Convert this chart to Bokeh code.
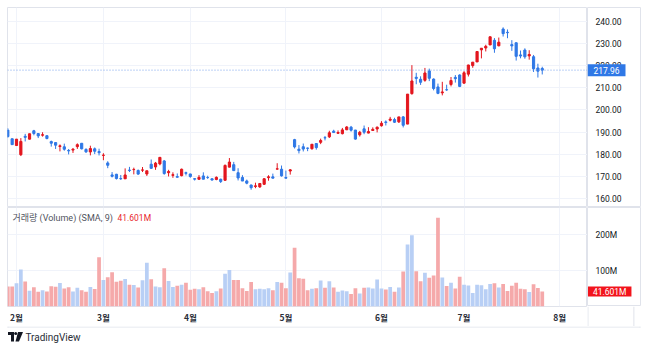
import numpy as np
from bokeh.plotting import figure
from bokeh.layouts import column, row
from bokeh.models import (ColumnDataSource, Range1d, FixedTicker, Span, Label)
from bokeh.core.properties import value
from bokeh.embed import file_html
from bokeh.resources import INLINE

# ---------------- data (AAPL daily) ----------------
dates = ["2024-01-30", "2024-01-31",
         "2024-02-01", "2024-02-02", "2024-02-05", "2024-02-06", "2024-02-07", "2024-02-08", "2024-02-09",
         "2024-02-12", "2024-02-13", "2024-02-14", "2024-02-15", "2024-02-16", "2024-02-20", "2024-02-21",
         "2024-02-22", "2024-02-23", "2024-02-26", "2024-02-27", "2024-02-28", "2024-02-29",
         "2024-03-01", "2024-03-04", "2024-03-05", "2024-03-06", "2024-03-07", "2024-03-08", "2024-03-11",
         "2024-03-12", "2024-03-13", "2024-03-14", "2024-03-15", "2024-03-18", "2024-03-19", "2024-03-20",
         "2024-03-21", "2024-03-22", "2024-03-25", "2024-03-26", "2024-03-27", "2024-03-28",
         "2024-04-01", "2024-04-02", "2024-04-03", "2024-04-04", "2024-04-05", "2024-04-08", "2024-04-09",
         "2024-04-10", "2024-04-11", "2024-04-12", "2024-04-15", "2024-04-16", "2024-04-17", "2024-04-18",
         "2024-04-19", "2024-04-22", "2024-04-23", "2024-04-24", "2024-04-25", "2024-04-26", "2024-04-29",
         "2024-04-30",
         "2024-05-01", "2024-05-02", "2024-05-03", "2024-05-06", "2024-05-07", "2024-05-08", "2024-05-09",
         "2024-05-10", "2024-05-13", "2024-05-14", "2024-05-15", "2024-05-16", "2024-05-17", "2024-05-20",
         "2024-05-21", "2024-05-22", "2024-05-23", "2024-05-24", "2024-05-28", "2024-05-29", "2024-05-30",
         "2024-05-31",
         "2024-06-03", "2024-06-04", "2024-06-05", "2024-06-06", "2024-06-07", "2024-06-10", "2024-06-11",
         "2024-06-12", "2024-06-13", "2024-06-14", "2024-06-17", "2024-06-18", "2024-06-20", "2024-06-21",
         "2024-06-24", "2024-06-25", "2024-06-26", "2024-06-27", "2024-06-28",
         "2024-07-01", "2024-07-02", "2024-07-03", "2024-07-05", "2024-07-08", "2024-07-09", "2024-07-10",
         "2024-07-11", "2024-07-12", "2024-07-15", "2024-07-16", "2024-07-17", "2024-07-18", "2024-07-19",
         "2024-07-22", "2024-07-23", "2024-07-24", "2024-07-25", "2024-07-26"]

opens = [190.94, 187.04,
         183.99, 179.86, 188.15, 186.86, 190.64, 189.39, 188.65, 188.42, 185.77, 185.32, 183.55, 183.42,
         181.79, 181.94, 183.48, 185.01, 182.24, 181.10, 182.51, 181.27,
         179.55, 176.15, 170.76, 171.06, 169.15, 169.00, 172.94, 173.15, 172.77, 172.91, 171.17, 175.57,
         174.34, 175.72, 177.05, 171.76, 170.57, 170.00, 170.41, 171.75,
         171.19, 169.08, 168.79, 170.29, 169.59, 169.03, 168.70, 168.80, 168.34, 174.26, 175.36, 171.75,
         169.61, 168.03, 166.21, 165.52, 165.35, 166.54, 169.53, 169.88, 173.37, 173.33,
         169.58, 172.51, 186.65, 182.35, 183.45, 182.85, 182.56, 184.90, 185.44, 187.51, 187.91, 190.47,
         189.51, 189.33, 191.09, 192.27, 190.98, 188.82, 191.51, 189.61, 190.76, 191.44,
         192.90, 194.64, 195.40, 195.69, 194.65, 196.90, 193.65, 207.37, 214.74, 213.85, 213.37, 217.59,
         213.93, 210.39, 207.72, 209.15, 211.50, 214.69, 215.77,
         212.09, 216.15, 220.00, 221.65, 227.09, 227.93, 229.30, 231.39, 228.92, 236.48, 235.00, 229.45,
         230.28, 224.82, 227.01, 224.37, 224.00, 218.93, 218.70]

highs = [191.80, 187.10,
         186.95, 187.33, 189.25, 189.31, 191.05, 189.54, 189.99, 188.67, 186.21, 185.53, 184.49, 184.85,
         182.43, 182.89, 184.96, 185.04, 182.76, 183.92, 183.12, 182.57,
         180.53, 176.90, 172.04, 171.24, 170.73, 173.70, 174.38, 174.03, 173.19, 174.31, 172.62, 177.71,
         176.61, 178.67, 177.49, 173.05, 171.94, 171.42, 173.60, 172.23,
         171.25, 169.34, 170.68, 171.92, 170.39, 169.20, 170.08, 169.09, 175.46, 178.36, 176.63, 173.76,
         170.65, 168.64, 166.40, 167.26, 167.05, 169.30, 170.61, 171.34, 176.03, 174.99,
         172.71, 173.42, 187.00, 184.20, 184.90, 183.07, 184.66, 185.09, 187.10, 188.30, 190.65, 191.10,
         190.81, 191.92, 192.73, 192.82, 191.00, 190.58, 193.00, 192.25, 192.18, 192.57,
         194.99, 195.32, 196.90, 196.50, 196.94, 197.30, 207.16, 220.20, 216.75, 215.17, 218.95, 218.63,
         214.24, 211.89, 212.70, 211.38, 214.86, 215.74, 216.07,
         217.51, 220.38, 221.55, 226.45, 227.85, 229.40, 233.08, 232.39, 232.64, 237.23, 236.27, 231.46,
         230.44, 226.80, 227.78, 226.94, 224.80, 220.85, 219.49]

lows = [187.47, 184.35,
        183.82, 179.25, 185.84, 186.77, 188.61, 187.35, 188.00, 186.79, 183.51, 182.44, 181.35, 181.67,
        180.00, 180.66, 182.46, 182.23, 180.65, 179.56, 180.13, 179.53,
        177.38, 173.79, 169.62, 168.68, 168.49, 168.94, 172.05, 171.01, 170.76, 172.05, 170.29, 173.52,
        173.03, 175.09, 170.84, 170.06, 169.45, 169.58, 170.11, 170.51,
        169.48, 168.23, 168.58, 168.82, 168.95, 168.24, 168.35, 167.11, 168.16, 174.21, 172.50, 168.27,
        168.00, 166.55, 164.08, 164.77, 164.92, 166.21, 168.15, 169.18, 173.10, 170.00,
        169.11, 170.89, 182.66, 180.42, 181.32, 181.45, 182.11, 182.13, 184.62, 186.29, 187.37, 189.66,
        189.18, 189.01, 190.92, 190.27, 186.63, 188.04, 189.10, 189.51, 190.63, 189.91,
        192.52, 193.03, 194.87, 194.17, 194.14, 192.15, 193.63, 206.90, 211.60, 211.30, 212.72, 213.00,
        208.85, 207.11, 206.59, 208.61, 210.64, 212.35, 210.30,
        211.92, 215.10, 219.03, 221.65, 223.25, 226.37, 229.25, 225.77, 228.68, 233.09, 232.33, 226.64,
        222.27, 223.28, 223.09, 222.68, 217.13, 214.62, 216.01]

closes = [188.04, 184.40,
          186.86, 185.85, 187.68, 189.30, 189.41, 188.32, 188.85, 187.15, 185.04, 184.15, 183.86, 182.31,
          181.56, 182.32, 184.37, 182.52, 181.16, 182.63, 181.42, 180.75,
          179.66, 175.10, 170.12, 169.12, 169.00, 170.73, 172.75, 173.23, 171.13, 173.00, 172.62, 173.72,
          176.08, 178.67, 171.37, 172.28, 170.85, 169.71, 173.31, 171.48,
          170.03, 168.84, 169.65, 168.82, 169.58, 168.45, 169.67, 167.78, 175.04, 176.55, 172.69, 169.38,
          168.00, 167.04, 165.00, 165.84, 166.90, 169.02, 169.89, 169.30, 173.50, 170.33,
          169.30, 173.03, 183.38, 181.71, 182.40, 182.74, 184.57, 183.05, 186.28, 187.43, 189.72, 189.84,
          189.87, 191.04, 192.35, 190.90, 186.88, 189.98, 189.99, 190.29, 191.29, 192.25,
          194.03, 194.35, 195.87, 194.48, 196.89, 193.12, 207.15, 213.07, 214.24, 212.49, 216.67, 214.29,
          209.68, 207.49, 208.14, 209.07, 213.25, 214.10, 210.62,
          216.75, 220.27, 221.55, 226.34, 227.82, 228.68, 232.98, 227.57, 230.54, 234.40, 234.82, 228.88,
          224.18, 224.31, 223.96, 225.01, 218.54, 217.49, 217.96]

volumes_m = [55.86, 55.47,
             64.89, 102.52, 69.67, 43.49, 53.44, 40.96, 45.16, 41.78, 56.53, 54.63, 65.43, 49.75,
             53.67, 41.53, 52.29, 45.12, 40.87, 54.32, 48.95, 136.68,
             73.56, 81.51, 95.13, 68.59, 71.77, 76.27, 60.14, 59.83, 52.49, 72.91, 121.75, 75.60,
             55.22, 53.42, 106.18, 71.11, 54.29, 57.39, 60.27, 65.67,
             46.24, 49.33, 47.69, 53.70, 42.06, 37.43, 42.45, 49.71, 91.07, 101.59, 73.53, 73.71,
             50.90, 43.12, 68.15, 48.12, 49.54, 48.25, 50.56, 44.84, 68.17, 65.93,
             50.38, 94.21, 163.22, 78.57, 77.31, 45.06, 48.98, 50.76, 72.04, 52.39, 70.40, 52.85,
             41.28, 44.36, 42.31, 34.65, 51.01, 36.29, 52.28, 53.07, 49.95, 75.16,
             50.08, 47.47, 54.16, 41.18, 53.10, 97.26, 172.37, 198.13, 97.86, 70.12, 93.73, 79.94,
             86.17, 246.42, 80.73, 56.71, 66.21, 49.77, 82.54,
             60.40, 58.05, 37.37, 60.41, 59.09, 48.08, 62.63, 64.71, 53.05, 62.63, 43.23, 57.35,
             66.03, 49.15, 48.20, 39.96, 61.78, 51.39, 41.60]

future_days = ["2024-07-29", "2024-07-30", "2024-07-31", "2024-08-01"]
month_labels = {"02": "2월", "03": "3월", "04": "4월", "05": "5월", "06": "6월", "07": "7월", "08": "8월"}
price_ticks = [160, 170, 180, 190, 200, 210, 220, 230, 240]
volume_ticks = [100, 200]
volume_tick_labels = ["100M", "200M"]
legend_title = "거래량 (Volume) (SMA, 9)"
legend_value = "41.601M"
brand = "TradingView"

# ---------------- derived ----------------
offset = dates.index("2024-02-01")
xs = np.arange(len(dates)) - offset
o = np.array(opens); c = np.array(closes)
up = c >= o
UP_RED = "#e3161e"
DOWN_BLUE = "#2f78e6"
VOL_BLUE = "#b8cff5"
VOL_PINK = "#f5a9aa"
GRID = "#f0f3fa"
BORDER = "#e0e3eb"
TXT = "#131722"
FONT = "Roboto, 'Noto Sans CJK KR', sans-serif"

src = ColumnDataSource(dict(
    x=xs, open=o, high=highs, low=lows, close=c,
    top=np.maximum(o, c), bottom=np.minimum(o, c),
    color=[UP_RED if u else DOWN_BLUE for u in up],
    vol=volumes_m,
    vcolor=[VOL_BLUE if u else VOL_PINK for u in up],
))

all_days = dates + future_days
month_pos, month_lab = [], []
for i in range(1, len(all_days)):
    if all_days[i][5:7] != all_days[i - 1][5:7]:
        month_pos.append(i - offset)
        month_lab.append(month_labels[all_days[i][5:7]])

# layout geometry (pixels)
W = 647
FL, FR, RR = 7, 587, 640
BAR_PX = 4.345
X0 = -(16 - FL) / BAR_PX
X1 = X0 + (FR - FL) / BAR_PX
P_HI, P_LO = 246.17, 156.53
V_HI = 275.0
V_PX = V_HI / 99.0

xr = Range1d(X0, X1)
pyr = Range1d(P_LO, P_HI)
vyr = Range1d(0, V_HI)

def base(fig):
    fig.background_fill_color = "white"
    fig.border_fill_color = "white"
    fig.outline_line_color = BORDER
    return fig

def bare(fig):
    fig.xgrid.visible = False
    fig.ygrid.visible = False
    return fig

# ---------------- price pane ----------------
p = base(figure(width=FR, height=207, x_range=xr, y_range=pyr,
                output_backend="svg", toolbar_location=None,
                x_axis_location=None, y_axis_location=None,
                min_border_left=FL, min_border_right=0, min_border_top=7, min_border_bottom=1))
p.ygrid.ticker = FixedTicker(ticks=price_ticks)
p.ygrid.grid_line_color = GRID
p.xgrid.ticker = FixedTicker(ticks=month_pos)
p.xgrid.grid_line_color = GRID

p.segment(x0="x", y0="low", x1="x", y1="high", color="color", line_width=1, source=src)
p.vbar(x="x", width=0.5, top="top", bottom="bottom", fill_color="color", line_color="color",
       line_width=1, source=src)
last = closes[-1]
p.add_layout(Span(location=last, dimension="width", line_color="#6a9ae8", line_dash="1 2",
                  line_width=1, line_alpha=0.9))

# price scale column
rp = bare(base(figure(width=W - FR, height=207, x_range=Range1d(0, RR - FR), y_range=pyr,
                      output_backend="svg", toolbar_location=None,
                      x_axis_location=None, y_axis_location=None,
                      min_border_left=0, min_border_right=W - RR, min_border_top=7, min_border_bottom=1)))
rp.text(x=[8] * len(price_ticks), y=price_ticks, text=[f"{t:.2f}" for t in price_ticks],
        text_font=value(FONT), text_font_size="8.5px", text_color=TXT, text_baseline="middle")
rp.rect(x=[19], y=[last], width=38, height=12, width_units="screen", height_units="screen",
        fill_color=DOWN_BLUE, line_color=None)
rp.text(x=[19], y=[last], text=[f"{last:.2f}"], text_font=value(FONT), text_font_size="8.5px",
        text_color="white", text_align="center", text_baseline="middle")

# ---------------- volume pane ----------------
v = base(figure(width=FR, height=119, x_range=xr, y_range=vyr,
                output_backend="svg", toolbar_location=None,
                x_axis_location="below", y_axis_location=None,
                min_border_left=FL, min_border_right=0, min_border_top=0, min_border_bottom=20))
v.ygrid.ticker = FixedTicker(ticks=volume_ticks)
v.ygrid.grid_line_color = GRID
v.xaxis.ticker = FixedTicker(ticks=month_pos)
v.xaxis.major_label_overrides = {t: s for t, s in zip(month_pos, month_lab)}
v.xaxis.major_tick_line_color = None
v.xaxis.minor_tick_line_color = None
v.xaxis.major_tick_out = 0
v.xaxis.major_tick_in = 0
v.xaxis.minor_tick_out = 0
v.xaxis.minor_tick_in = 0
v.xaxis.axis_line_color = None
v.xaxis.major_label_standoff = 4
v.xaxis.major_label_text_font_size = "8.5px"
v.xaxis.major_label_text_font_style = "bold"
v.xaxis.major_label_text_color = "#2a2e39"
v.xaxis.major_label_text_font = "'Noto Sans CJK KR', sans-serif"
v.xgrid.grid_line_color = GRID

v.vbar(x="x", width=0.86, top="vol", bottom=0, fill_color="vcolor", line_color=None, source=src)

lx = X0 + (12 - FL) / BAR_PX
ly = (306 - 217.5) * V_PX
v.add_layout(Label(x=lx, y=ly, text=legend_title, text_color="#50535e",
                   text_font_size="9px", text_font=FONT, text_baseline="middle"))
v.add_layout(Label(x=X0 + (117 - FL) / BAR_PX, y=ly, text=legend_value, text_color="#e8262d",
                   text_font_size="8.5px", text_font=FONT, text_baseline="middle"))

# volume scale column
rv = bare(base(figure(width=W - FR, height=99, x_range=Range1d(0, RR - FR), y_range=vyr,
                      output_backend="svg", toolbar_location=None,
                      x_axis_location=None, y_axis_location=None,
                      min_border_left=0, min_border_right=W - RR, min_border_top=0, min_border_bottom=0)))
rv.text(x=[8] * len(volume_ticks), y=volume_ticks, text=volume_tick_labels,
        text_font=value(FONT), text_font_size="8.5px", text_color=TXT, text_baseline="middle")
vlast = volumes_m[-1]
rv.rect(x=[22.2], y=[vlast], width=43.5, height=10, width_units="screen", height_units="screen",
        fill_color="#f2141c", line_color=None)
rv.text(x=[22.2], y=[vlast], text=[legend_value], text_font=value(FONT), text_font_size="8.5px",
        text_color="white", text_align="center", text_baseline="middle")

# corner box under the volume scale (time-axis row)
cb = bare(figure(width=W - FR, height=20, x_range=Range1d(0, W - FR), y_range=Range1d(0, 20),
                 output_backend="svg", toolbar_location=None,
                 x_axis_location=None, y_axis_location=None,
                 min_border_left=0, min_border_right=0, min_border_top=0, min_border_bottom=0))
cb.outline_line_color = None
cb.background_fill_color = "white"
cb.border_fill_color = "white"
cb.segment(x0=[0.5, RR - FR - 0.5], y0=[0, 0], x1=[0.5, RR - FR - 0.5], y1=[20, 20],
           line_color=BORDER, line_width=1)

# ---------------- branding row ----------------
lg = bare(figure(width=W, height=26, x_range=Range1d(0, W), y_range=Range1d(0, 26),
                 output_backend="svg", toolbar_location=None,
                 x_axis_location=None, y_axis_location=None,
                 min_border_left=0, min_border_right=0, min_border_top=0, min_border_bottom=0))
lg.outline_line_color = None
lg.background_fill_color = "white"
lg.border_fill_color = "white"
lg.segment(x0=[FL, FL + 0.5, RR - 0.5], y0=[25.5, 26, 26], x1=[RR, FL + 0.5, RR - 0.5], y1=[25.5, 25, 25],
           line_color=BORDER, line_width=1)
lg.patches(xs=[[7.5, 13.5, 13.5, 10.5, 10.5, 7.5], [17.5, 22.5, 18.5, 15.0]],
           ys=[[20.5, 20.5, 11, 11, 17.5, 17.5], [20.5, 20.5, 11, 11]],
           fill_color="#131722", line_color=None)
lg.circle(x=[15.2], y=[19], radius=1.5, fill_color="#131722", line_color=None)
lg.text(x=[25], y=[15.5], text=[brand], text_font=value(FONT), text_font_size="10px",
        text_color="#2a2e39", text_baseline="middle")

layout = column(row(p, rp, spacing=0),
                row(v, column(rv, cb, spacing=0), spacing=0),
                lg, spacing=0)
open("out.html", "w").write(file_html(layout, INLINE))
